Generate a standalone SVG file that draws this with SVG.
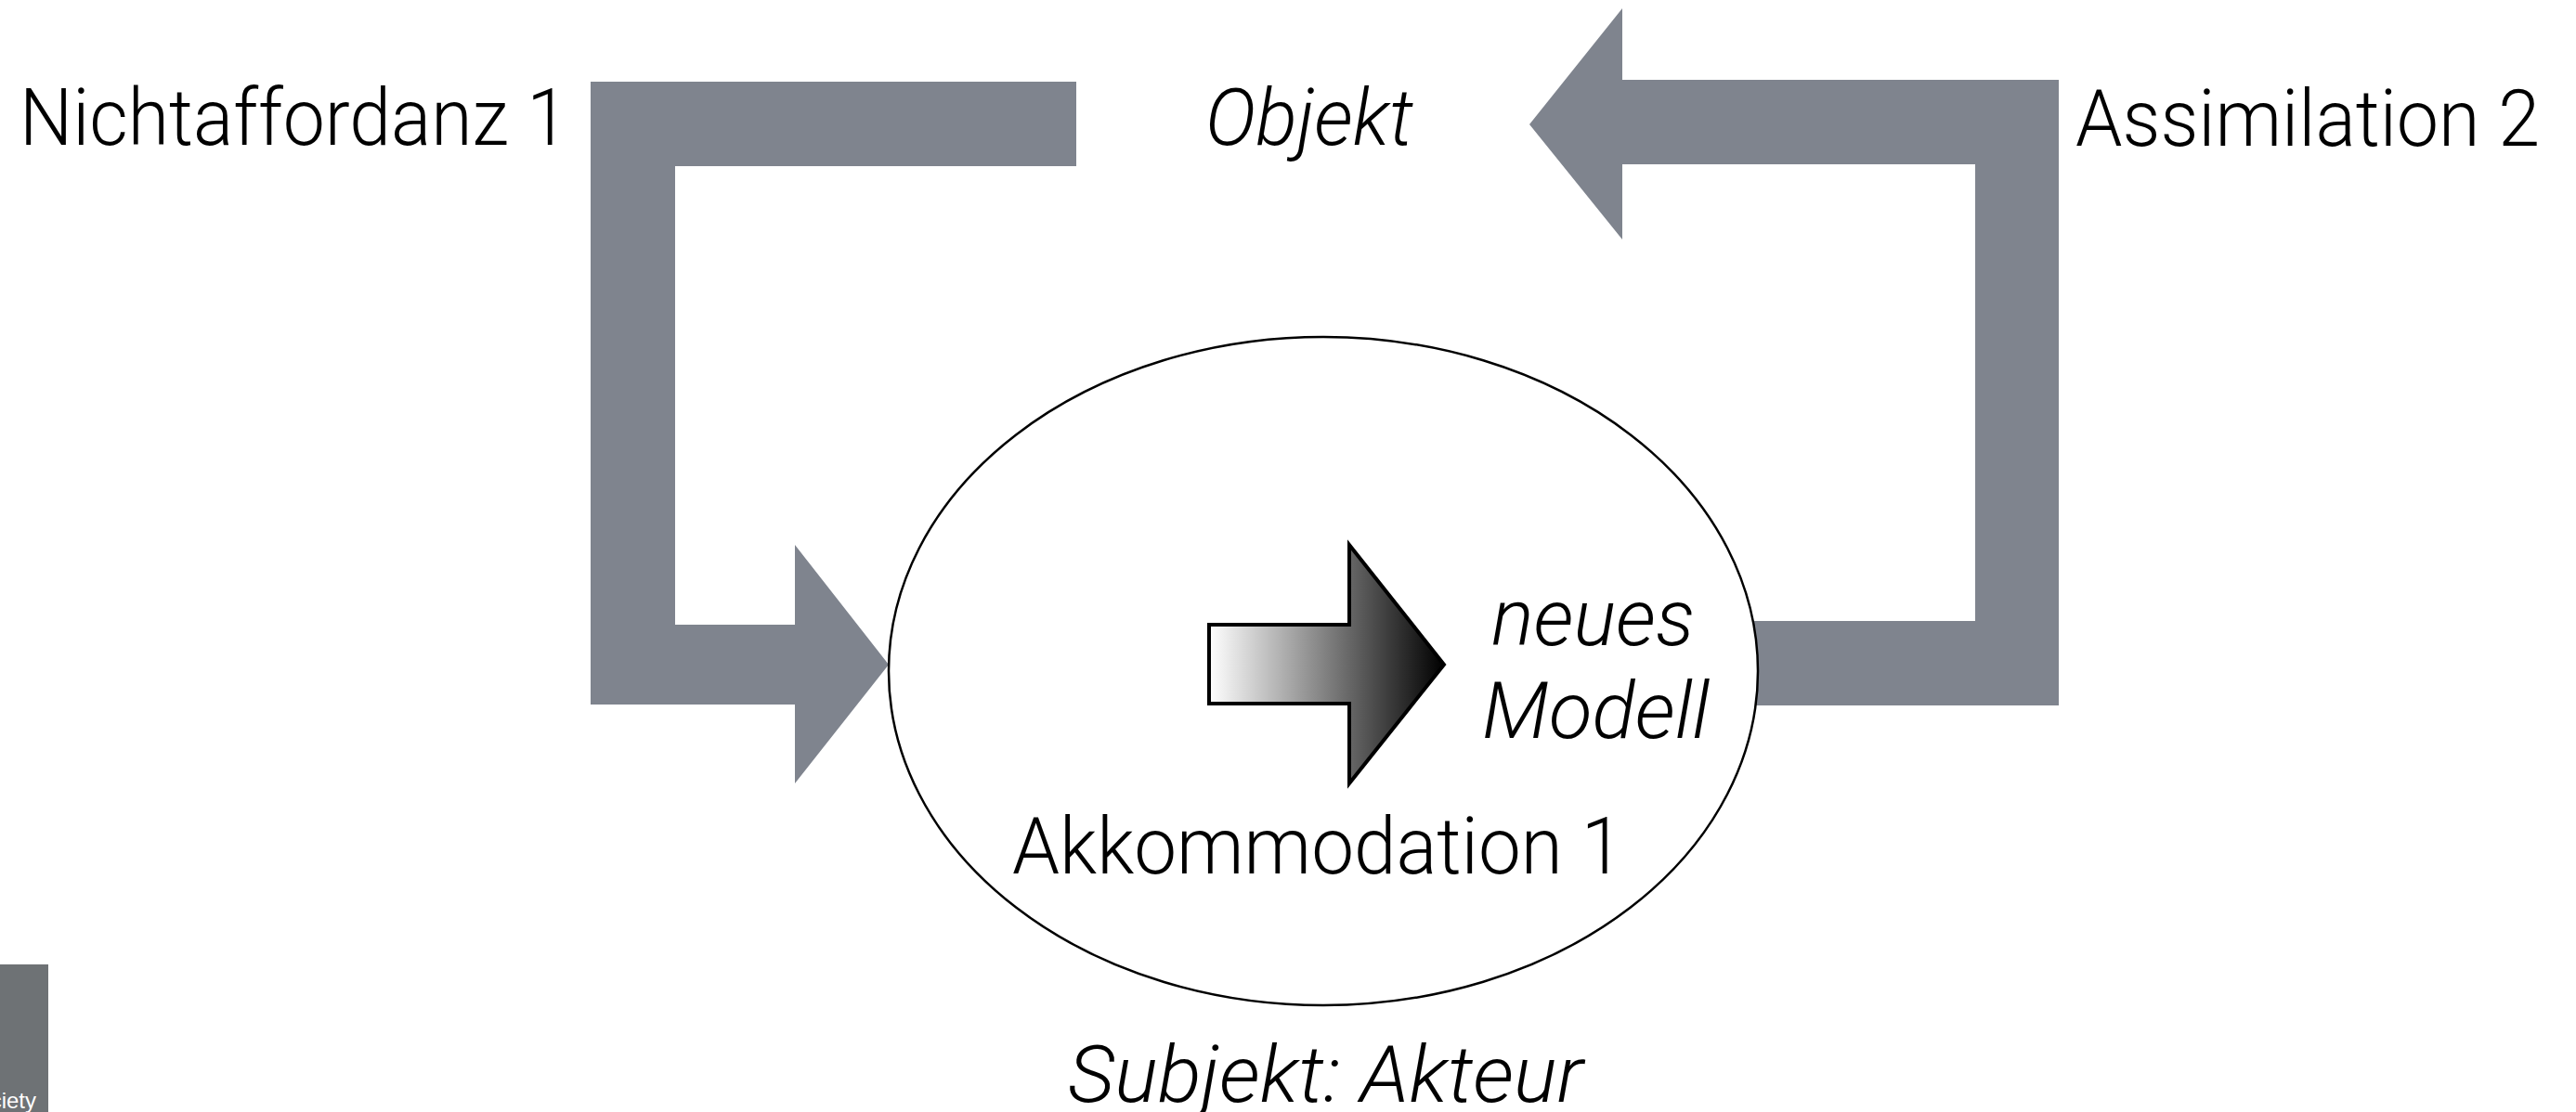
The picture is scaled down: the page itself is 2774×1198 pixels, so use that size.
<svg xmlns="http://www.w3.org/2000/svg" width="2774" height="1198" viewBox="0 0 2774 1198">
<style>
.lbl{font-family:Roboto,"Liberation Sans",Arial,sans-serif;font-weight:300;font-size:86px;fill:#000}
.it{font-style:italic}
.big{fill:#7f848e}
</style>
<defs>
<linearGradient id="grad" x1="1302" y1="0" x2="1555" y2="0" gradientUnits="userSpaceOnUse">
<stop offset="0" stop-color="#ffffff"/>
<stop offset="1" stop-color="#000000"/>
</linearGradient>
</defs>
<rect width="2774" height="1198" fill="#ffffff"/>
<g id="connectors">
<polygon id="arrow-nichtaffordanz" class="big" points="636,88 1159,88 1159,179 727,179 727,673 856,673 856,587 957,716 856,844 856,759 636,759"/>
<polygon id="arrow-assimilation" class="big" points="1647,134 1747,9 1747,86 2217,86 2217,760 1880,760 1880,669 2127,669 2127,177 1747,177 1747,258"/>
</g>
<g id="subject">
<ellipse cx="1425" cy="723" rx="468" ry="360" fill="#ffffff" stroke="#000" stroke-width="2.5"/>
<polygon id="model-arrow" points="1302,673 1453,673 1453,587 1555,716 1453,844 1453,758 1302,758" fill="url(#grad)" stroke="#000" stroke-width="4" stroke-linejoin="miter"/>
<text class="lbl it" x="1606" y="695" textLength="219" lengthAdjust="spacingAndGlyphs">neues</text>
<text class="lbl it" x="1596" y="795" textLength="245" lengthAdjust="spacingAndGlyphs">Modell</text>
<text class="lbl" x="1090" y="941" textLength="658" lengthAdjust="spacingAndGlyphs">Akkommodation 1</text>
</g>
<g id="labels">
<text class="lbl" x="21" y="156" textLength="591" lengthAdjust="spacingAndGlyphs">Nichtaffordanz 1</text>
<text class="lbl it" x="1298" y="156" textLength="224" lengthAdjust="spacingAndGlyphs">Objekt</text>
<text class="lbl" x="2235" y="157" textLength="500" lengthAdjust="spacingAndGlyphs">Assimilation 2</text>
<text class="lbl it" x="1150" y="1187" textLength="555" lengthAdjust="spacingAndGlyphs">Subjekt: Akteur</text>
</g>
<g id="corner">
<rect x="0" y="1039" width="52" height="159" fill="#6e7275"/>
<text x="39" y="1194" text-anchor="end" font-family="'Liberation Sans Narrow','Liberation Sans',Arial,sans-serif" font-size="24" fill="#ffffff">ciety</text>
</g>
</svg>
